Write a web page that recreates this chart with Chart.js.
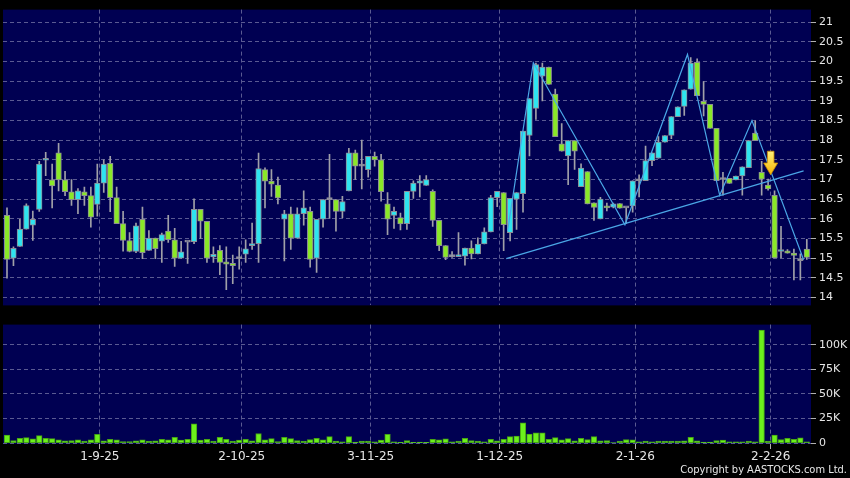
<!DOCTYPE html>
<html>
<head>
<meta charset="utf-8">
<script src="https://cdn.jsdelivr.net/npm/chart.js@4.4.1/dist/chart.umd.min.js"></script>
<style>
  html, body { margin: 0; padding: 0; background: #000; }
  #wrap { position: relative; width: 850px; height: 478px; background: #000; overflow: hidden; }
  #price { position: absolute; left: 0; top: 0; }
  #vol { position: absolute; left: 0; top: 315px; }
  #copy { position: absolute; right: 3px; top: 463px; line-height: 14px; color: #e8e8e8;
          font-family: "DejaVu Sans Condensed", "Liberation Sans Narrow", sans-serif; font-size: 11px; }
</style>
</head>
<body>
<div id="wrap">
  <canvas id="price" width="850" height="315"></canvas>
  <canvas id="vol" width="850" height="163"></canvas>
  <div id="copy">Copyright by AASTOCKS.com Ltd.</div>
</div>
<script>
// daily candles, index 0 = first visible trading day
const openP = [
  16.09, 15.00, 15.30, 15.74, 15.84, 16.24, 17.49, 16.99, 17.68, 16.99,
  16.69, 16.49, 16.69, 16.59, 16.37, 16.91, 17.41, 16.54, 15.88, 15.45,
  15.17, 15.99, 15.20, 15.51, 15.43, 15.69, 15.47, 15.00, 15.41, 15.42,
  16.24, 15.94, 15.03, 15.20, 14.91, 14.87, 14.99, 15.10, 15.32, 15.37,
  17.25, 16.96, 16.86, 15.99, 16.13, 15.51, 16.13, 16.19, 15.00, 15.99,
  16.49, 16.49, 16.19, 16.71, 17.68, 17.34, 17.25, 17.59, 17.50, 16.38,
  16.09, 16.03, 15.88, 16.70, 16.91, 16.85, 16.70, 15.96, 15.32, 15.04,
  15.04, 15.05, 15.26, 15.11, 15.36, 15.67, 16.54, 16.67, 15.65, 16.50,
  16.64, 18.12, 18.81, 19.63, 19.86, 19.17, 17.91, 17.60, 17.99, 16.82,
  17.20, 16.41, 16.00, 16.29, 16.30, 16.39, 16.28, 16.33, 16.97, 16.97,
  17.48, 17.54, 17.95, 18.12, 18.60, 18.86, 19.30, 19.98, 18.99, 18.91,
  18.30, 17.00, 17.03, 16.99, 17.09, 17.30, 18.18, 17.18, 16.86, 16.60,
  15.17, 15.19, 15.13, 14.94, 15.23
];
const highP = [
  16.28, 15.29, 15.99, 16.38, 16.20, 17.46, 17.69, 17.39, 17.92, 17.21,
  17.00, 16.77, 16.81, 16.81, 17.39, 17.50, 17.59, 16.81, 16.19, 15.65,
  15.89, 16.30, 15.70, 15.51, 15.64, 16.09, 15.76, 15.43, 15.41, 16.51,
  16.24, 15.94, 15.29, 15.32, 15.29, 15.08, 15.29, 15.47, 15.89, 17.67,
  17.30, 17.25, 17.06, 16.22, 16.30, 16.28, 16.71, 16.30, 15.99, 16.49,
  17.64, 16.49, 16.57, 17.79, 17.75, 18.00, 17.59, 17.70, 17.64, 16.67,
  16.30, 16.15, 16.70, 16.97, 17.10, 17.10, 16.74, 15.96, 15.32, 15.17,
  15.65, 15.26, 15.44, 15.52, 15.77, 16.60, 16.70, 16.67, 16.52, 16.67,
  18.23, 19.06, 19.96, 19.96, 19.86, 19.30, 18.42, 17.99, 17.99, 17.40,
  17.20, 16.41, 16.55, 16.40, 16.40, 16.39, 16.28, 16.97, 17.12, 17.85,
  17.68, 18.09, 18.12, 18.60, 18.85, 19.28, 20.10, 20.07, 19.49, 18.91,
  18.30, 17.18, 17.03, 17.09, 17.32, 17.99, 18.49, 17.46, 17.01, 16.71,
  15.81, 15.22, 15.23, 15.11, 15.48
];
const lowP = [
  14.49, 14.81, 15.30, 15.74, 15.45, 16.19, 17.10, 16.28, 16.71, 16.59,
  16.34, 16.13, 16.34, 15.79, 16.07, 16.67, 16.18, 15.88, 15.18, 15.16,
  15.14, 14.99, 15.20, 14.99, 14.89, 15.40, 14.79, 15.00, 14.87, 15.37,
  15.50, 14.89, 14.89, 14.58, 14.20, 14.35, 14.72, 14.89, 15.22, 14.89,
  16.28, 16.57, 16.38, 14.93, 15.22, 15.51, 15.84, 14.77, 14.64, 15.79,
  16.01, 15.69, 16.03, 16.71, 17.00, 16.76, 17.06, 17.34, 16.45, 15.60,
  15.76, 15.72, 15.73, 16.52, 16.56, 16.85, 15.81, 15.19, 14.96, 15.02,
  15.04, 14.82, 14.98, 15.11, 15.36, 15.67, 16.31, 15.19, 15.44, 15.73,
  16.17, 17.60, 18.53, 19.00, 19.42, 18.09, 17.72, 16.87, 17.26, 16.82,
  16.38, 15.96, 16.00, 16.20, 16.28, 16.27, 15.88, 16.17, 16.56, 16.97,
  17.35, 17.54, 17.95, 18.04, 18.60, 18.63, 19.30, 19.13, 18.62, 18.30,
  16.97, 16.60, 16.90, 16.99, 16.60, 17.30, 17.99, 16.60, 16.73, 15.01,
  15.01, 15.13, 14.45, 14.45, 14.97
];
const closeP = [
  14.97, 15.25, 15.74, 16.34, 15.99, 17.39, 17.53, 16.84, 16.99, 16.69,
  16.49, 16.71, 16.59, 16.04, 16.91, 17.39, 16.54, 15.88, 15.45, 15.17,
  15.82, 15.14, 15.51, 15.24, 15.60, 15.47, 15.00, 15.16, 15.41, 16.24,
  15.94, 15.00, 15.10, 14.89, 14.85, 14.81, 14.99, 15.24, 15.33, 17.28,
  16.96, 16.88, 16.53, 16.13, 15.51, 16.13, 16.28, 14.97, 15.99, 16.49,
  16.49, 16.19, 16.44, 17.68, 17.34, 17.34, 17.59, 17.50, 16.69, 15.99,
  16.19, 15.87, 16.70, 16.91, 16.97, 17.00, 15.96, 15.32, 15.02, 15.04,
  15.05, 15.26, 15.11, 15.36, 15.67, 16.54, 16.70, 15.85, 16.52, 16.67,
  18.23, 19.06, 19.92, 19.86, 19.42, 18.09, 17.72, 17.99, 17.72, 17.29,
  16.38, 16.29, 16.50, 16.28, 16.38, 16.27, 16.28, 16.97, 16.97, 17.48,
  17.68, 17.95, 18.12, 18.60, 18.85, 19.28, 19.96, 19.13, 18.91, 18.30,
  16.97, 17.00, 16.90, 17.09, 17.32, 17.99, 17.99, 17.01, 16.76, 15.01,
  15.19, 15.13, 15.07, 14.94, 15.02
];
// volume in thousands of shares
const volK = [
  8.1, 2.6, 4.9, 5.5, 4.2, 7.5, 4.9, 4.5, 3.2, 2.3,
  2.6, 3.2, 1.9, 3.2, 8.8, 2.3, 3.9, 3.2, 1.6, 1.6,
  2.3, 3.2, 1.9, 2.3, 3.9, 3.2, 5.8, 2.9, 3.9, 19.5,
  2.9, 3.9, 1.9, 5.8, 3.9, 1.9, 2.9, 3.9, 2.3, 9.7,
  3.2, 4.5, 1.6, 5.8, 4.5, 2.6, 1.9, 3.6, 4.9, 3.2,
  6.5, 1.9, 1.3, 6.5, 1.0, 1.9, 1.9, 1.3, 2.9, 8.8,
  1.3, 0.7, 2.6, 0.8, 1.0, 0.8, 3.9, 3.2, 4.2, 1.3,
  1.9, 4.9, 2.6, 1.9, 1.3, 3.9, 2.3, 3.9, 6.5, 7.1,
  20.5, 9.1, 10.4, 10.4, 3.9, 5.5, 3.2, 4.5, 2.3, 4.9,
  3.6, 6.5, 2.3, 2.6, 0.6, 1.9, 3.6, 3.2, 1.3, 1.9,
  1.3, 1.9, 1.9, 1.9, 1.9, 2.3, 5.8, 2.3, 1.0, 1.0,
  2.6, 2.9, 1.3, 1.3, 1.3, 1.9, 1.3, 115, 1.9, 8.1,
  3.6, 4.9, 3.9, 5.2, 1.3
];

const dateLabels = ['1-9-25', '2-10-25', '3-11-25', '1-12-25', '2-1-26', '2-2-26'];
const dateIdx = [14, 36, 56, 76, 97, 118];
const priceTicks = [14, 14.5, 15, 15.5, 16, 16.5, 17, 17.5, 18, 18.5, 19, 19.5, 20, 20.5, 21];
const volTicks = [0, 25, 50, 75, 100];

// pattern lines drawn on the chart (index, price)
const zigX = [77.6, 81.6, 95.8, 105.5, 110.5, 115.5, 123.5];
const zigY = [15.68, 19.97, 15.85, 20.18, 16.60, 18.50, 14.96];
const neckX = [77.4, 123.5];
const neckY = [14.99, 17.22];
// yellow arrow: index, top price, tip price
const arrowAt = [118.4, 17.72, 17.12];

const NAVY = '#000052';
const GRID = '#5a5a92';
const CYAN = '#2ee4f0';
const GREEN = '#8ae828';
const DOJI = '#9c9cae';
const TXT = '#e6e6e6';
const XMIN = -0.62, XMAX = 124.65;
const GRID_SHIFT = 0.4;

const bodyColor = openP.map((o, i) => closeP[i] > o ? CYAN : (closeP[i] < o ? GREEN : DOJI));

const navyBg = {
  id: 'navyBg',
  beforeDraw(chart) {
    const a = chart.chartArea, ctx = chart.ctx;
    ctx.save();
    ctx.fillStyle = NAVY;
    ctx.fillRect(a.left, a.top, a.right - a.left, a.bottom - a.top);
    ctx.restore();
  }
};

const arrowPlugin = {
  id: 'arrow',
  afterDatasetsDraw(chart) {
    const x = chart.scales.x.getPixelForValue(arrowAt[0]);
    const top = chart.scales.y.getPixelForValue(arrowAt[1]);
    const tip = chart.scales.y.getPixelForValue(arrowAt[2]);
    const neck = top + (tip - top) * 0.5;
    const ctx = chart.ctx;
    const g = ctx.createLinearGradient(0, top, 0, tip);
    g.addColorStop(0, '#fff27a');
    g.addColorStop(1, '#f5b400');
    ctx.save();
    ctx.beginPath();
    ctx.moveTo(x - 3.3, top);
    ctx.lineTo(x + 3.3, top);
    ctx.lineTo(x + 3.3, neck);
    ctx.lineTo(x + 7, neck);
    ctx.lineTo(x, tip);
    ctx.lineTo(x - 7, neck);
    ctx.lineTo(x - 3.3, neck);
    ctx.closePath();
    ctx.fillStyle = g;
    ctx.fill();
    ctx.strokeStyle = '#c98a00';
    ctx.lineWidth = 0.8;
    ctx.stroke();
    ctx.restore();
  }
};

function dateTicks(axis) {
  axis.ticks = dateIdx.map(v => ({ value: v + GRID_SHIFT }));
}

const font11 = { family: 'DejaVu Sans', size: 11 };

// price panel
new Chart(document.getElementById('price'), {
  type: 'bar',
  data: {
    datasets: [
      {
        type: 'line',
        data: zigX.map((x, i) => ({ x: x, y: zigY[i] })),
        borderColor: '#4aa6e6', borderWidth: 1.2, pointRadius: 0, tension: 0, order: 0
      },
      {
        type: 'line',
        data: neckX.map((x, i) => ({ x: x, y: neckY[i] })),
        borderColor: '#4aa6e6', borderWidth: 1.2, pointRadius: 0, tension: 0, order: 0
      },
      {
        // candle bodies
        data: openP.map((o, i) => ({ x: i, y: [o, closeP[i]] })),
        backgroundColor: bodyColor,
        borderColor: '#8c8c96',
        borderWidth: 1,
        borderSkipped: false,
        barThickness: 5.6,
        minBarLength: 2,
        grouped: false,
        order: 1
      },
      {
        // wicks
        data: highP.map((h, i) => ({ x: i, y: [lowP[i], h] })),
        backgroundColor: '#a0a0a8',
        barThickness: 1,
        grouped: false,
        order: 2
      }
    ]
  },
  options: {
    responsive: false,
    animation: false,
    layout: { padding: { left: 3, top: 8, right: 0, bottom: 4 } },
    plugins: { legend: { display: false }, tooltip: { enabled: false } },
    scales: {
      x: {
        type: 'linear', min: XMIN, max: XMAX, offset: false,
        afterBuildTicks: dateTicks,
        afterFit: s => { s.height = 0; },
        ticks: { display: false },
        grid: { color: GRID, drawTicks: false, offset: false },
        border: { display: false, dash: [4, 3] }
      },
      y: {
        position: 'right', min: 13.8, max: 21.32,
        afterBuildTicks: axis => { axis.ticks = priceTicks.map(v => ({ value: v })); },
        afterFit: s => { s.width = 39; },
        ticks: { color: TXT, font: font11, padding: 3, callback: v => String(v) },
        grid: { color: GRID, tickLength: 5, tickColor: '#b0b0b0' },
        border: { display: false, dash: [4, 3] }
      }
    }
  },
  plugins: [navyBg, arrowPlugin]
});

// volume panel
new Chart(document.getElementById('vol'), {
  type: 'bar',
  data: {
    datasets: [{
      data: volK.map((v, i) => ({ x: i, y: v })),
      backgroundColor: '#6cf01c',
      borderColor: '#45a414',
      borderWidth: 1,
      borderSkipped: false,
      barThickness: 5.6,
      grouped: false
    }]
  },
  options: {
    responsive: false,
    animation: false,
    layout: { padding: { left: 3, top: 4, right: 0, bottom: 0 } },
    plugins: { legend: { display: false }, tooltip: { enabled: false } },
    scales: {
      x: {
        type: 'linear', min: XMIN, max: XMAX, offset: false,
        afterBuildTicks: dateTicks,
        afterFit: s => { s.height = 34; },
        ticks: {
          color: TXT, font: { family: 'DejaVu Sans', size: 12 }, padding: 1,
          maxRotation: 0, autoSkip: false,
          callback: (v, i) => dateLabels[i]
        },
        grid: { color: GRID, tickLength: 5, tickColor: '#b0b0b0', offset: false },
        border: { display: false, dash: [4, 3] }
      },
      y: {
        position: 'right', min: -0.97, max: 120.6,
        afterBuildTicks: axis => { axis.ticks = volTicks.map(v => ({ value: v })); },
        afterFit: s => { s.width = 39; },
        ticks: { color: TXT, font: font11, padding: 3, callback: v => v === 0 ? '0' : v + 'K' },
        grid: { color: GRID, tickLength: 5, tickColor: '#b0b0b0' },
        border: { display: false, dash: [4, 3] }
      }
    }
  },
  plugins: [navyBg]
});
</script>
</body>
</html>
